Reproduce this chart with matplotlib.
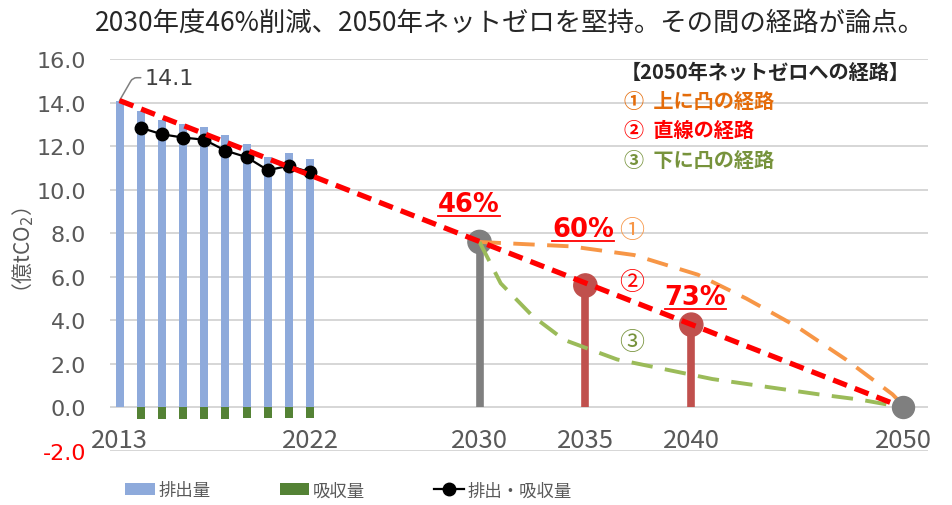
import matplotlib
matplotlib.use("Agg")
import matplotlib.pyplot as plt
import numpy as np

plt.rcParams['font.family'] = ['Noto Sans CJK JP', 'DejaVu Sans']

# data (100 million t-CO2)
hist_years = [2013, 2014, 2015, 2016, 2017, 2018, 2019, 2020, 2021, 2022]
emissions = [14.1, 13.6, 13.2, 13.0, 12.9, 12.5, 12.1, 11.5, 11.7, 11.4]
net_years = [2014, 2015, 2016, 2017, 2018, 2019, 2020, 2021, 2022]
absorption = [-0.55, -0.55, -0.55, -0.55, -0.55, -0.5, -0.5, -0.5, -0.5]
net = [12.85, 12.55, 12.4, 12.3, 11.8, 11.5, 10.9, 11.1, 10.8]

target_years = [2030, 2035, 2040]
target_values = [7.6, 5.6, 3.8]
target_labels = ['46%', '60%', '73%']
target_colors = ['#7f7f7f', '#c0504d', '#c0504d']

line_years = [2013, 2050]
line_values = [14.1, 0.0]

upper_years = [2030, 2034.3, 2037.3, 2040.3, 2042.6, 2045, 2047.3, 2049.5, 2050]
upper_values = [7.6, 7.4, 7.0, 6.1, 5.0, 3.7, 2.2, 0.6, 0.1]

lower_years = [2030, 2031, 2032.5, 2034, 2036.5, 2039, 2041, 2043.5, 2046, 2048, 2050]
lower_values = [7.6, 5.7, 4.2, 3.1, 2.2, 1.7, 1.3, 0.95, 0.6, 0.35, 0.0]

xtick_years = [2013, 2022, 2030, 2035, 2040, 2050]
yticks = np.arange(-2, 16.1, 2)

fig = plt.figure(figsize=(9.53, 5.06), dpi=100)
ax = fig.add_axes([0.115, 0.107, 0.859, 0.774])

b1 = ax.bar(hist_years, emissions, width=0.38, color='#8eaadb', label='排出量', zorder=2)
b2 = ax.bar(net_years, absorption, width=0.38, color='#548235', label='吸収量', zorder=2)
l1, = ax.plot(net_years, net, color='black', lw=1.6, marker='o', ms=9, label='排出・吸収量', zorder=5)

# target stems
ax.vlines(target_years, 0, target_values, colors=target_colors, lw=5.5, zorder=3)
ax.scatter(target_years, target_values, s=280, c=target_colors, zorder=4)
ax.scatter([line_years[-1]], [line_values[-1]], s=250, c='#7f7f7f', zorder=7)

# pathways
ax.plot(upper_years, upper_values, color='#f79646', lw=2.8, ls=(0, (5.5, 3.2)), zorder=5)
ax.plot(lower_years, lower_values, color='#9bbb59', lw=2.8, ls=(0, (5.5, 3.2)), zorder=5)
ax.plot(line_years, line_values, color='#ff0000', lw=3.8, ls=(0, (2.8, 1.6)), zorder=6)

ax.set_xlim(2012.53, 2051.19)
ax.set_ylim(-2, 16)
ax.set_yticks(yticks)
ax.set_yticklabels([f'{v:.1f}' for v in yticks], family='DejaVu Sans', fontsize=16, color='#595959')
ax.get_yticklabels()[0].set_color('#ff0000')
ax.tick_params(axis='y', length=0, pad=17)
ax.set_xticks([])
ax.grid(axis='y', color='#cfcfcf', lw=1.2, zorder=0)
ax.set_axisbelow(True)
for s in ax.spines.values():
    s.set_visible(False)

for yr in xtick_years:
    ax.text(yr, -1.5, str(yr), ha='center', va='center', fontsize=18.5, color='#595959')

ax.set_ylabel('（億tCO$_2$）', fontsize=15, color='#595959', labelpad=0)

# 14.1 label with leader line
ax.annotate('14.1', xy=(2013, 14.1), xytext=(2014.2, 15.15), ha='left', va='center',
            fontsize=16, family='DejaVu Sans', color='#404040',
            arrowprops=dict(arrowstyle='-', color='#7f7f7f', lw=1.1,
                            connectionstyle='angle,angleA=0,angleB=60,rad=4',
                            shrinkA=1, shrinkB=0))

pct_pos = [(2029.5, 9.35), (2034.9, 8.2), (2040.2, 5.05)]
pct_texts = []
for (x, y), lab in zip(pct_pos, target_labels):
    t = ax.text(x, y, lab, ha='center', va='center', fontsize=18.5, fontweight='bold',
                color='#ff0000', family='DejaVu Sans', zorder=8)
    pct_texts.append(t)

circ = [('①', 8.15, '#f79646'), ('②', 5.75, '#ff0000'), ('③', 3.0, '#77933c')]
for c, y, col in circ:
    ax.text(2037.2, y, c, ha='center', va='center', fontsize=18, color=col)

ax.text(0.624, 0.969, '【2050年ネットゼロへの経路】', transform=ax.transAxes, ha='left', va='center',
        fontsize=14.5, fontweight='bold', color='#262626')
ax.text(0.628, 0.895, '①  上に凸の経路', transform=ax.transAxes, ha='left', va='center',
        fontsize=14.5, fontweight='bold', color='#e46c0a')
ax.text(0.628, 0.821, '②  直線の経路', transform=ax.transAxes, ha='left', va='center',
        fontsize=14.5, fontweight='bold', color='#ff0000')
ax.text(0.628, 0.745, '③  下に凸の経路', transform=ax.transAxes, ha='left', va='center',
        fontsize=14.5, fontweight='bold', color='#77933c')

fig.text(0.535, 0.955, '2030年度46%削減、2050年ネットゼロを堅持。その間の経路が論点。',
         ha='center', va='center', fontsize=19, color='#262626')

fig.legend([b1, b2, l1], ['排出量', '吸収量', '排出・吸収量'], loc='lower left',
           bbox_to_anchor=(0.115, -0.02), ncol=3, frameon=False,
           fontsize=12.5, labelcolor='#595959', handlelength=1.7, columnspacing=4.0,
           handletextpad=0.2)

# underline the percentage labels
fig.canvas.draw()
r = fig.canvas.get_renderer()
inv = ax.transData.inverted()
for t in pct_texts:
    bb = t.get_window_extent(r)
    (x0, y0), (x1, _) = inv.transform([(bb.x0, bb.y0), (bb.x1, bb.y0)])
    ax.plot([x0, x1], [y0 + 0.05, y0 + 0.05], color='#ff0000', lw=1.3, zorder=8)

fig.savefig('out.png', dpi=100)
